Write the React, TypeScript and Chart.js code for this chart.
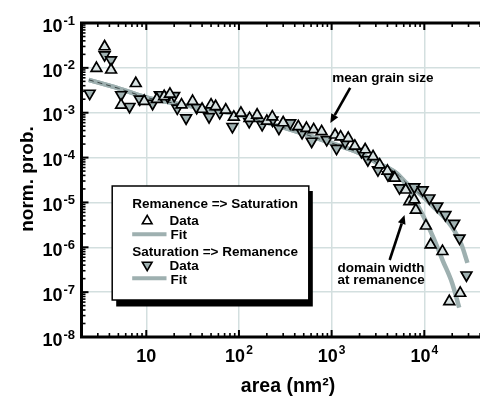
import React, { useEffect, useRef } from "react";
import { Chart, registerables } from "chart.js";

Chart.register(...registerables);

// ---------- data ----------
const remSatX = [2.9, 3.55, 4.17, 5.35, 7.7, 9.5, 13, 15.6, 18, 24, 31.6, 40, 50, 56, 72, 88, 105, 130, 157, 200, 229, 300, 437, 535, 640, 780, 1090, 1250, 1510, 1780, 2300, 2800, 3300, 4000, 4800, 6300, 6900, 7800, 8100, 10400, 11700, 15700, 18600, 24400];
const remSatY = [9.8e-3, 2.97e-2, 9.0e-3, 1.48e-3, 4.5e-3, 1.8e-3, 2.0e-3, 2.3e-3, 2.6e-3, 1.5e-3, 1.8e-3, 1.2e-3, 1.5e-3, 1.38e-3, 1.15e-3, 8.0e-4, 9.8e-4, 7.5e-4, 8.9e-4, 6.5e-4, 8.1e-4, 6.0e-4, 4.9e-4, 4.5e-4, 4.2e-4, 3.8e-4, 3.2e-4, 2.9e-4, 2.7e-4, 1.8e-4, 1.5e-4, 1.05e-4, 6.9e-5, 5.0e-5, 3.5e-5, 1.9e-5, 1.05e-5, 1.15e-5, 6.8e-6, 3.0e-6, 1.14e-6, 8.1e-7, 6.2e-8, 9.5e-8];

const satRemX = [2.45, 3.55, 4.17, 5.35, 6.6, 8.5, 11.7, 14, 17, 20, 21.6, 26.9, 35, 47.6, 62, 85, 129, 178, 230, 270, 357, 480, 609, 885, 1130, 1400, 2100, 2460, 3160, 4050, 5400, 7800, 9600, 11350, 13800, 16900, 21000, 24000, 28500];
const satRemY = [2.7e-3, 1.94e-2, 1.5e-2, 2.5e-3, 1.37e-3, 2.0e-3, 1.6e-3, 2.5e-3, 2.3e-3, 2.4e-3, 1.26e-3, 7.6e-4, 1.3e-3, 8.1e-4, 1.0e-3, 4.9e-4, 6.3e-4, 5.4e-4, 6.8e-4, 4.5e-4, 5.9e-4, 3.6e-4, 2.3e-4, 2.5e-4, 1.6e-4, 2.2e-4, 1.36e-4, 8.9e-5, 5.3e-5, 4.1e-5, 2.1e-5, 2.2e-5, 1.9e-5, 1.25e-5, 8.2e-6, 5.3e-6, 3.4e-6, 1.6e-6, 2.4e-7];

const fitRemSatX = [2.4, 5, 10, 30, 100, 300, 1000, 2000, 3160, 5000, 6310, 7940, 10000, 12600, 15850, 19950, 23800];
const fitRemSatY = [5.4e-3, 3.5e-3, 2.2e-3, 1.4e-3, 8.9e-4, 4.7e-4, 2.1e-4, 1.25e-4, 7.5e-5, 4.5e-5, 2.5e-5, 1.1e-5, 4.5e-6, 1.6e-6, 5.0e-7, 1.6e-7, 4.5e-8];

const fitSatRemX = [2.4, 5, 10, 30, 100, 300, 1000, 2000, 3160, 5000, 6310, 7940, 10000, 12600, 15850, 19950, 25100, 29200];
const fitSatRemY = [5.4e-3, 3.5e-3, 2.2e-3, 1.4e-3, 8.9e-4, 4.7e-4, 2.1e-4, 1.25e-4, 7.5e-5, 4.5e-5, 2.8e-5, 1.9e-5, 1.26e-5, 7.9e-6, 5.0e-6, 2.8e-6, 1.17e-6, 4.5e-7];
const dashedPointCount = 13;

const xMajorTicks = [10, 100, 1000, 10000];
const xTickExponents = ["", "2", "3", "4"];
const yMajorTicks = [1e-1, 1e-2, 1e-3, 1e-4, 1e-5, 1e-6, 1e-7, 1e-8];
const yTickExponents = ["-1", "-2", "-3", "-4", "-5", "-6", "-7", "-8"];
const minorDigits = [2, 3, 4, 5, 6, 7, 8, 9];

const xAxisTitle = "area (nm²)";
const yAxisTitle = "norm. prob.";
const legendTitleA = "Remanence => Saturation";
const legendTitleB = "Saturation => Remanence";
const legendData = "Data";
const legendFit = "Fit";
const noteMean = "mean grain size";
const noteDomain = ["domain width", "at remanence"];

// annotation anchors in data units
const meanTextAt = [3580, 4.84e-3];
const meanArrowFrom = [1585, 3.56e-3];
const meanArrowTo = [968, 5.9e-4];
const domainTextAt = [1160, 2.86e-7];
const domainArrowFrom = [4230, 5.2e-7];
const domainArrowTo = [6120, 5.25e-6];

// ---------- styles ----------
const FONT = '"Liberation Sans", Arial, Helvetica, sans-serif';
const GRID = "#d3dfdf";
const FIT = "#9eb0b0";
const UP_FILL = "#d8e2e2";
const DOWN_FILL = "#a0b2b2";

const pts = (xs: number[], ys: number[]) => xs.map((x, i) => ({ x, y: ys[i] }));

function drawArrow(ctx: CanvasRenderingContext2D, x1: number, y1: number, x2: number, y2: number) {
  const ang = Math.atan2(y2 - y1, x2 - x1);
  const hl = 9, hw = 4;
  const bx = x2 - Math.cos(ang) * hl;
  const by = y2 - Math.sin(ang) * hl;
  ctx.lineWidth = 2.6;
  ctx.beginPath();
  ctx.moveTo(x1, y1);
  ctx.lineTo(bx, by);
  ctx.stroke();
  ctx.beginPath();
  ctx.moveTo(x2, y2);
  ctx.lineTo(bx + Math.sin(ang) * hw, by - Math.cos(ang) * hw);
  ctx.lineTo(bx - Math.sin(ang) * hw, by + Math.cos(ang) * hw);
  ctx.closePath();
  ctx.fill();
}

function triangle(ctx: CanvasRenderingContext2D, cx: number, cy: number, r: number, down: boolean, fill: string) {
  const s = down ? -1 : 1;
  ctx.beginPath();
  ctx.moveTo(cx, cy - s * r);
  ctx.lineTo(cx + r * 0.866, cy + s * r * 0.5);
  ctx.lineTo(cx - r * 0.866, cy + s * r * 0.5);
  ctx.closePath();
  ctx.fillStyle = fill;
  ctx.fill();
  ctx.lineWidth = 1.6;
  ctx.strokeStyle = "#000";
  ctx.stroke();
}

const decorPlugin = {
  id: "decor",
  afterDatasetsDraw(chart: any) {
    const { ctx, chartArea: a, scales } = chart;
    const xs = scales.x;
    const ys = scales.y;
    ctx.save();
    ctx.strokeStyle = "#000";
    ctx.fillStyle = "#000";

    // frame
    ctx.lineWidth = 3;
    ctx.lineJoin = "miter";
    ctx.beginPath();
    ctx.moveTo(a.right + 3, a.top);
    ctx.lineTo(a.left, a.top);
    ctx.lineTo(a.left, a.bottom);
    ctx.lineTo(a.right + 3, a.bottom);
    ctx.stroke();

    // x ticks
    ctx.lineWidth = 2;
    for (const v of xMajorTicks) {
      const px = xs.getPixelForValue(v);
      ctx.beginPath();
      ctx.moveTo(px, a.bottom);
      ctx.lineTo(px, a.bottom - 7);
      ctx.moveTo(px, a.top);
      ctx.lineTo(px, a.top + 7);
      ctx.stroke();
    }
    ctx.lineWidth = 1.6;
    for (let e = 0; e <= 4; e++) {
      for (const d of minorDigits) {
        const v = d * Math.pow(10, e);
        if (v < xs.min || v > xs.max) continue;
        const px = xs.getPixelForValue(v);
        ctx.beginPath();
        ctx.moveTo(px, a.bottom);
        ctx.lineTo(px, a.bottom - 4);
        ctx.moveTo(px, a.top);
        ctx.lineTo(px, a.top + 4);
        ctx.stroke();
      }
    }
    // y ticks
    ctx.lineWidth = 2;
    for (const v of yMajorTicks) {
      const py = ys.getPixelForValue(v);
      ctx.beginPath();
      ctx.moveTo(a.left, py);
      ctx.lineTo(a.left + 7, py);
      ctx.stroke();
    }
    ctx.lineWidth = 1.6;
    for (let e = -8; e <= -2; e++) {
      for (const d of minorDigits) {
        const v = d * Math.pow(10, e);
        const py = ys.getPixelForValue(v);
        ctx.beginPath();
        ctx.moveTo(a.left, py);
        ctx.lineTo(a.left + 4, py);
        ctx.stroke();
      }
    }

    // x tick labels
    ctx.textBaseline = "alphabetic";
    ctx.textAlign = "left";
    xMajorTicks.forEach((v, i) => {
      const px = xs.getPixelForValue(v);
      ctx.font = `bold 18px ${FONT}`;
      const wb = ctx.measureText("10").width;
      ctx.font = `bold 12px ${FONT}`;
      const exp = xTickExponents[i];
      const we = exp ? ctx.measureText(exp).width + 1 : 0;
      const start = px - (wb + we) / 2;
      ctx.font = `bold 18px ${FONT}`;
      ctx.fillText("10", start, a.bottom + 25);
      if (exp) {
        ctx.font = `bold 12px ${FONT}`;
        ctx.fillText(exp, start + wb + 1, a.bottom + 16.5);
      }
    });
    // y tick labels
    yMajorTicks.forEach((v, i) => {
      const py = ys.getPixelForValue(v);
      const right = a.left - 6.5;
      ctx.font = `bold 13px ${FONT}`;
      const exp = yTickExponents[i];
      const we = ctx.measureText(exp).width;
      ctx.fillText(exp, right - we, py + 1.5);
      ctx.font = `bold 18px ${FONT}`;
      const wb = ctx.measureText("10").width;
      ctx.fillText("10", right - we - 1 - wb, py + 8.7);
    });

    // axis titles
    ctx.font = `bold 19.5px ${FONT}`;
    ctx.textAlign = "center";
    ctx.fillText(xAxisTitle, 288, 391.5);
    ctx.save();
    ctx.translate(33, 179);
    ctx.rotate(-Math.PI / 2);
    ctx.font = `bold 19px ${FONT}`;
    ctx.fillText(yAxisTitle, 0, 0);
    ctx.restore();

    // annotations
    ctx.font = `bold 13.5px ${FONT}`;
    ctx.textAlign = "center";
    ctx.fillText(noteMean, xs.getPixelForValue(meanTextAt[0]), ys.getPixelForValue(meanTextAt[1]));
    ctx.textAlign = "left";
    const dx = xs.getPixelForValue(domainTextAt[0]);
    const dy = ys.getPixelForValue(domainTextAt[1]);
    noteDomain.forEach((t, i) => ctx.fillText(t, dx, dy + i * 12.5));
    drawArrow(ctx, xs.getPixelForValue(meanArrowFrom[0]), ys.getPixelForValue(meanArrowFrom[1]),
      xs.getPixelForValue(meanArrowTo[0]), ys.getPixelForValue(meanArrowTo[1]));
    drawArrow(ctx, xs.getPixelForValue(domainArrowFrom[0]), ys.getPixelForValue(domainArrowFrom[1]),
      xs.getPixelForValue(domainArrowTo[0]), ys.getPixelForValue(domainArrowTo[1]));

    // legend box
    const L = a.left + 30.7;
    const T = a.top + 163;
    const W = 196.6;
    const H = 114;
    ctx.fillStyle = "#000";
    ctx.fillRect(L + 4, T + 5, W, H + 1.5);
    ctx.fillStyle = "#fff";
    ctx.fillRect(L, T, W, H);
    ctx.lineWidth = 1.5;
    ctx.strokeStyle = "#000";
    ctx.strokeRect(L, T, W, H);
    ctx.fillStyle = "#000";
    ctx.font = `bold 13.5px ${FONT}`;
    ctx.textAlign = "left";
    ctx.fillText(legendTitleA, L + 20, T + 22.3);
    ctx.fillText(legendData, L + 57.3, T + 39);
    ctx.fillText(legendFit, L + 58.3, T + 53);
    ctx.fillText(legendTitleB, L + 20, T + 70);
    ctx.fillText(legendData, L + 57.3, T + 84);
    ctx.fillText(legendFit, L + 58.3, T + 98);
    triangle(ctx, L + 35, T + 35, 5.6, false, "#fff");
    triangle(ctx, L + 35, T + 79, 5.6, true, DOWN_FILL);
    ctx.strokeStyle = FIT;
    ctx.lineWidth = 4;
    ctx.beginPath();
    ctx.moveTo(L + 20, T + 48.3);
    ctx.lineTo(L + 54.3, T + 48.3);
    ctx.moveTo(L + 20, T + 92.3);
    ctx.lineTo(L + 54.3, T + 92.3);
    ctx.stroke();

    ctx.restore();
  },
};

export default function App() {
  const ref = useRef<HTMLCanvasElement>(null);
  useEffect(() => {
    const canvas = ref.current;
    if (!canvas) return;
    const chart = new Chart(canvas, {
      type: "scatter",
      data: {
        datasets: [
          {
            label: "Remanence => Saturation Data",
            data: pts(remSatX, remSatY),
            pointStyle: "triangle",
            pointRadius: 6.2,
            pointBackgroundColor: UP_FILL,
            pointBorderColor: "#000",
            pointBorderWidth: 1.7,
            showLine: false,
            order: 1,
          },
          {
            label: "Saturation => Remanence Data",
            data: pts(satRemX, satRemY),
            pointStyle: "triangle",
            pointRotation: 180,
            pointRadius: 6.2,
            pointBackgroundColor: DOWN_FILL,
            pointBorderColor: "#000",
            pointBorderWidth: 1.7,
            showLine: false,
            order: 1,
          },
          {
            label: "Saturation => Remanence Fit (dashed)",
            data: pts(fitSatRemX.slice(0, dashedPointCount), fitSatRemY.slice(0, dashedPointCount)),
            showLine: true,
            pointRadius: 0,
            borderColor: "#3a4444",
            borderWidth: 1,
            borderDash: [5, 4],
            cubicInterpolationMode: "monotone",
            order: 2,
          },
          {
            label: "Remanence => Saturation Fit",
            data: pts(fitRemSatX, fitRemSatY),
            showLine: true,
            pointRadius: 0,
            borderColor: FIT,
            borderWidth: 4.5,
            cubicInterpolationMode: "monotone",
            order: 3,
          },
          {
            label: "Saturation => Remanence Fit",
            data: pts(fitSatRemX, fitSatRemY),
            showLine: true,
            pointRadius: 0,
            borderColor: FIT,
            borderWidth: 4.5,
            cubicInterpolationMode: "monotone",
            order: 3,
          },
        ],
      },
      options: {
        responsive: false,
        devicePixelRatio: 1,
        animation: false,
        layout: { padding: { left: 81.5, top: 23, right: 1.4, bottom: 60 } },
        plugins: { legend: { display: false }, tooltip: { enabled: false } },
        scales: {
          x: {
            type: "logarithmic",
            min: 2,
            max: 40000,
            position: "bottom",
            ticks: { display: false },
            grid: { color: GRID, lineWidth: 1.5, drawTicks: false },
            border: { display: false },
            afterBuildTicks: (s: any) => {
              s.ticks = xMajorTicks.map((v) => ({ value: v }));
            },
          },
          y: {
            type: "logarithmic",
            min: 1e-8,
            max: 1e-1,
            position: "left",
            ticks: { display: false },
            grid: { color: GRID, lineWidth: 1.5, drawTicks: false },
            border: { display: false },
            afterBuildTicks: (s: any) => {
              s.ticks = yMajorTicks.map((v) => ({ value: v }));
            },
          },
        },
      },
      plugins: [decorPlugin],
    } as any);
    return () => chart.destroy();
  }, []);

  return (
    <div style={{ position: "fixed", left: 0, top: 0, width: 480, height: 397, overflow: "hidden", background: "#fff" }}>
      <canvas ref={ref} width={488} height={397} style={{ width: 488, height: 397, display: "block" }} />
    </div>
  );
}
